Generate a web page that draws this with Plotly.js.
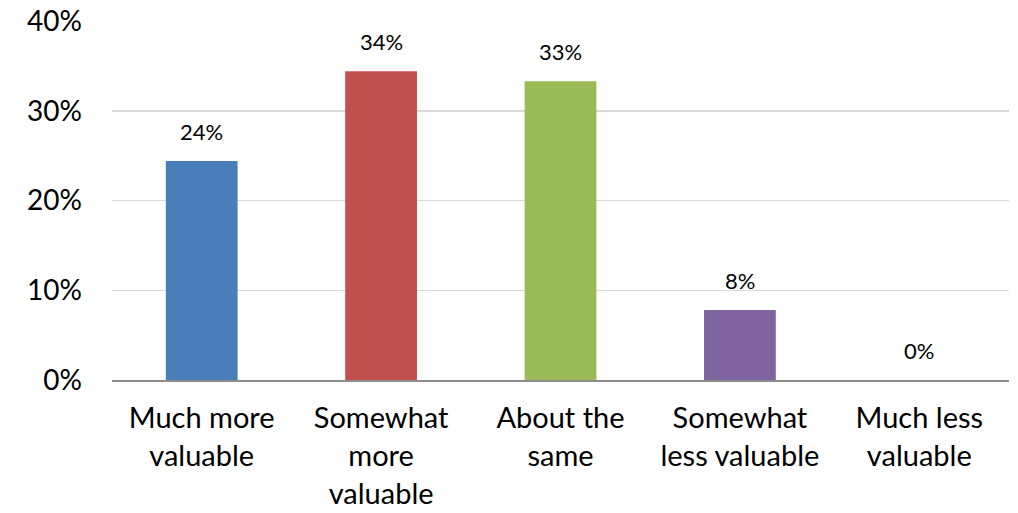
<!DOCTYPE html>
<html>
<head>
<meta charset="utf-8">
<script src="https://cdn.plot.ly/plotly-3.0.1.min.js"></script>
<style>
  html, body { margin: 0; padding: 0; background: #fff; }
  #chart { width: 1018px; height: 513px; }
</style>
</head>
<body>
<div id="chart"></div>
<script>
// Survey responses: perceived change in value
const categories = ['Much more<br>valuable', 'Somewhat<br>more<br>valuable', 'About the<br>same', 'Somewhat<br>less valuable', 'Much less<br>valuable'];
const shares = [24.4, 34.4, 33.3, 7.8, 0];
const barColors = ['#4A7EBB', '#C0504D', '#9BBB59', '#8064A2', '#4BACC6'];
const yTicks = [0, 10, 20, 30, 40];
const yTickLabels = ['0%', '10%', '20%', '30%', '40%'];

const FONT = 'Lato, "Open Sans", sans-serif';

const trace = {
  type: 'bar',
  x: categories,
  y: shares,
  marker: { color: barColors, line: { width: 0 } },
  hoverinfo: 'skip'
};

// Value labels above each bar, formatted from the same values
const annotations = shares.map((v, i) => ({
  x: categories[i],
  y: v,
  xref: 'x',
  yref: 'y',
  text: Math.round(v) + '%',
  showarrow: false,
  yanchor: 'bottom',
  yshift: 14,
  font: { family: FONT, size: 22, color: '#000' }
}));

const layout = {
  width: 1018,
  height: 513,
  margin: { l: 112, r: 9, t: 21, b: 133 },
  paper_bgcolor: '#fff',
  plot_bgcolor: '#fff',
  showlegend: false,
  bargap: 0.6,
  font: { family: FONT, color: '#000' },
  xaxis: {
    type: 'category',
    showgrid: false,
    showline: true,
    linecolor: '#8C8C8C',
    linewidth: 1.5,
    ticks: '',
    ticklabelstandoff: 12,
    tickfont: { family: FONT, size: 29, color: '#000' },
    fixedrange: true
  },
  yaxis: {
    range: [0, 40],
    tickvals: yTicks,
    ticktext: yTickLabels,
    showgrid: true,
    gridcolor: '#D9D9D9',
    gridwidth: 1.5,
    zeroline: false,
    showline: false,
    ticks: '',
    ticklabelstandoff: 29,
    tickfont: { family: FONT, size: 28, color: '#000' },
    fixedrange: true
  },
  annotations: annotations
};

Plotly.newPlot('chart', [trace], layout, { displayModeBar: false, staticPlot: true });
</script>
</body>
</html>
